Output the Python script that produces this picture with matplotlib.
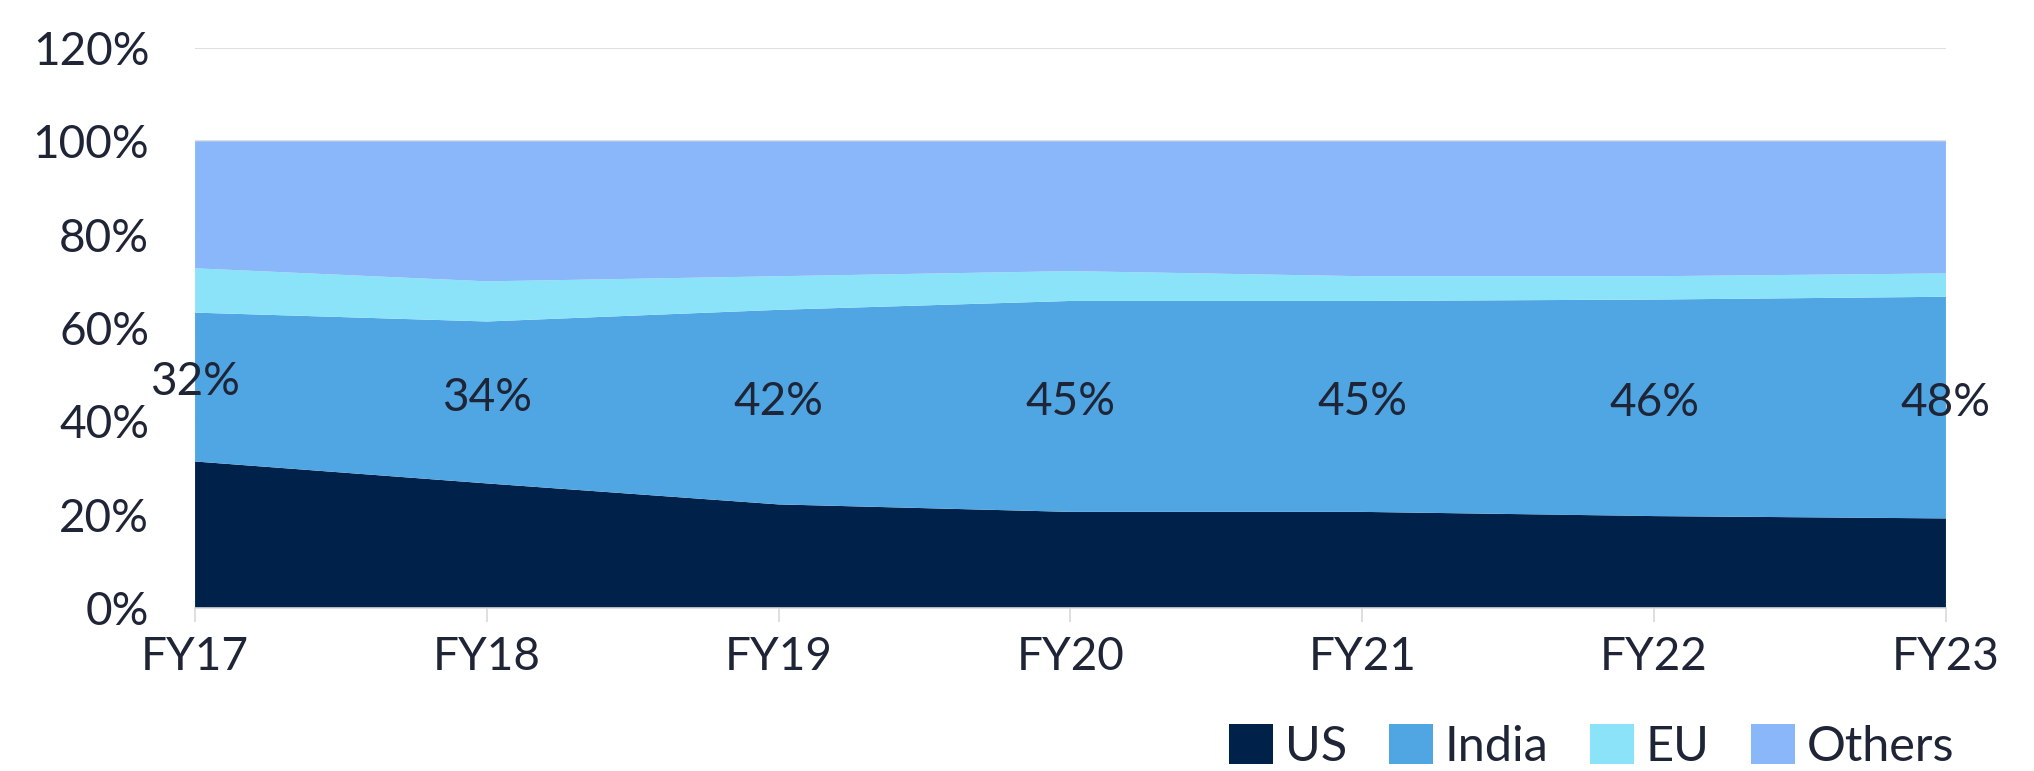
import matplotlib
matplotlib.use("Agg")
import matplotlib.pyplot as plt
from matplotlib.patches import Patch
import numpy as np

years = ["FY17", "FY18", "FY19", "FY20", "FY21", "FY22", "FY23"]
us = [31.4, 26.7, 22.2, 20.6, 20.6, 19.7, 19.2]
india = [31.9, 34.7, 41.7, 45.2, 45.2, 46.4, 47.5]
eu = [9.5, 8.6, 7.2, 6.4, 5.3, 5.0, 5.0]
others = [27.2, 30.0, 28.9, 27.8, 28.9, 28.9, 28.3]
india_labels = ["32%", "34%", "42%", "45%", "45%", "46%", "48%"]

series_names = ["US", "India", "EU", "Others"]
colors = ["#00214A", "#4FA6E3", "#8BE3FA", "#8AB7F9"]
text_color = "#1F2536"

plt.rcParams["font.family"] = ["Lato", "DejaVu Sans"]

fig = plt.figure(figsize=(20.34, 7.71), dpi=100)
ax = fig.add_axes([0.0959, 0.2114, 0.8608, 0.7263])

x = np.arange(len(years))
ax.stackplot(x, us, india, eu, others, colors=colors, linewidth=0, zorder=2)

for xi, u, v, lab in zip(x, us, india, india_labels):
    ax.text(xi, u + v / 2 + 1, lab, ha="center", va="center",
            fontsize=33, color=text_color, zorder=3)

ax.set_xlim(0, len(years) - 1)
ax.set_ylim(0, 120)
ax.set_yticks(np.arange(0, 121, 20))
ax.set_yticklabels([f"{v}%" for v in range(0, 121, 20)])
ax.set_xticks(x)
ax.set_xticklabels(years)
ax.yaxis.grid(True, color="#D9D9D9", linewidth=1.2, zorder=0)
ax.set_axisbelow(True)

for side in ["top", "right", "left"]:
    ax.spines[side].set_visible(False)
ax.spines["bottom"].set_color("#D9D9D9")
ax.spines["bottom"].set_linewidth(1.2)
ax.spines["bottom"].set_zorder(4)

ax.tick_params(axis="y", length=0, pad=33, labelsize=33, labelcolor=text_color)
ax.tick_params(axis="x", length=10, width=1.2, color="#D9D9D9", pad=10,
               labelsize=33, labelcolor=text_color)

handles = [Patch(facecolor=c, edgecolor="none") for c in colors]
fig.legend(handles, series_names, loc="lower right", bbox_to_anchor=(0.962, 0.0),
           ncol=4, frameon=False, fontsize=35, handlelength=0.9, handleheight=0.9,
           handletextpad=0.25, columnspacing=0.85, labelcolor=text_color,
           borderpad=0.05, borderaxespad=0)

fig.savefig("out.png", dpi=100)
